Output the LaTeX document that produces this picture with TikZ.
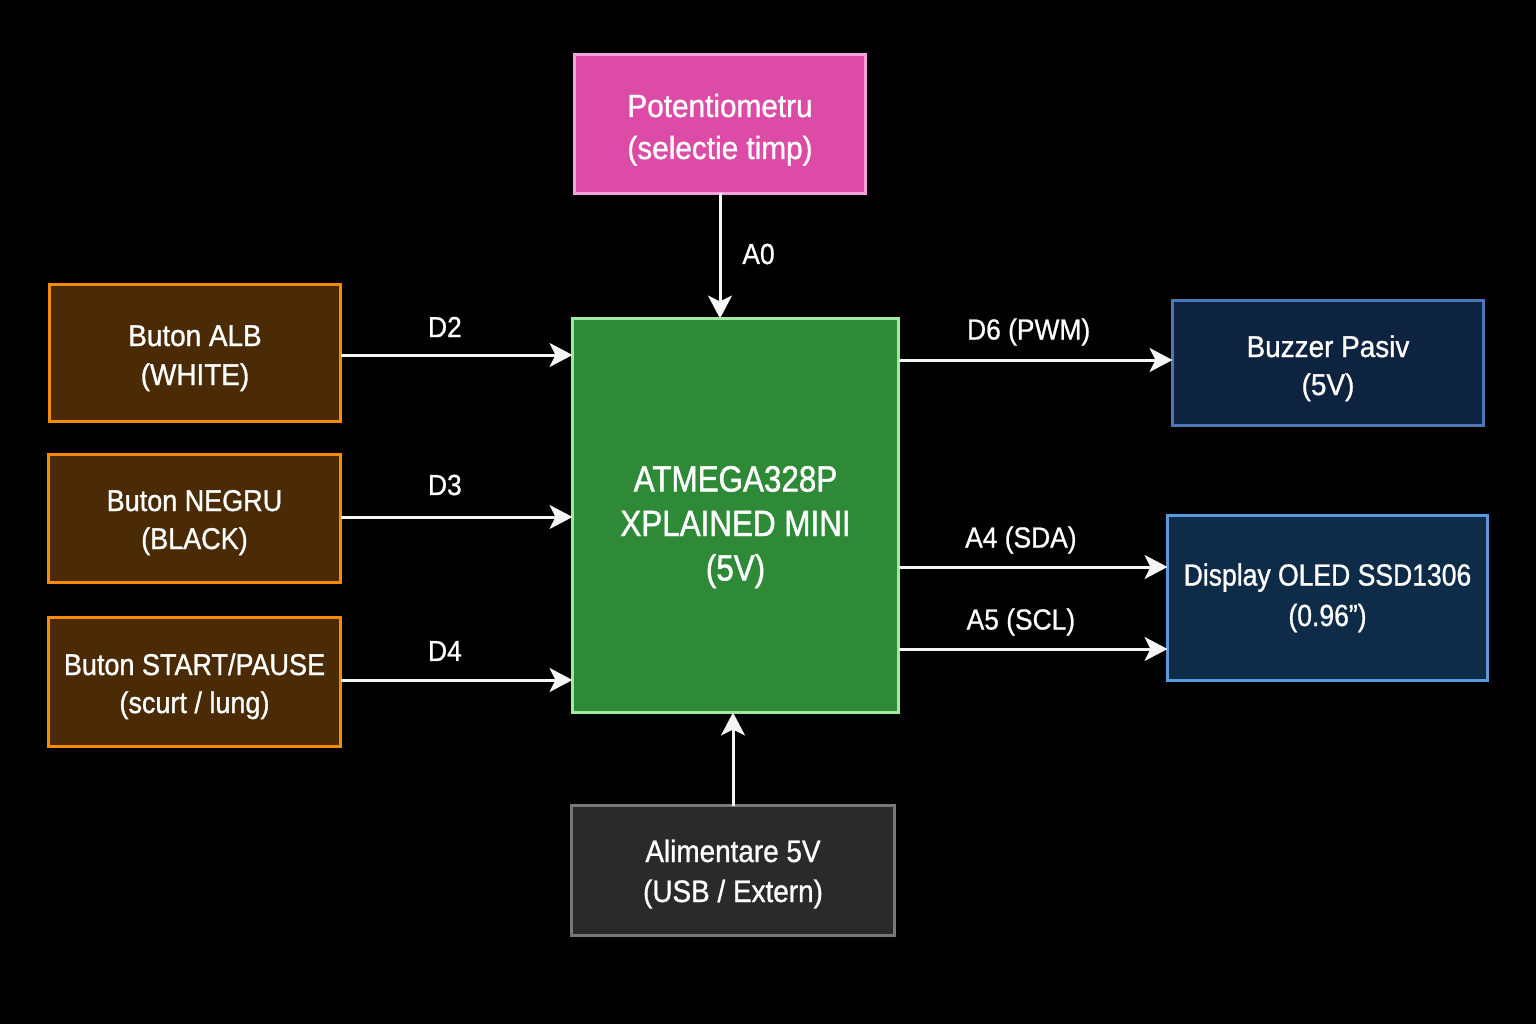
\documentclass[tikz,border=0pt]{standalone}
\usepackage{fontspec}
\setmainfont{Liberation Sans}
\newfontfamily\fa[FakeStretch=0.93,FakeBold=1]{Liberation Sans}
\newfontfamily\fb[FakeStretch=0.90,FakeBold=1]{Liberation Sans}
\newfontfamily\fc[FakeStretch=0.87,FakeBold=1]{Liberation Sans}
\newfontfamily\fd[FakeStretch=0.86,FakeBold=1.3]{Liberation Sans}
\newfontfamily\fl[FakeStretch=0.91,FakeBold=0.8]{Liberation Sans}
\usetikzlibrary{arrows.meta,calc}
\definecolor{bgc}{HTML}{000000}
\tikzset{
  x=1pt,y=-1pt,
  box/.style={draw,line width=3pt,rectangle,outer sep=0pt,inner sep=0pt,text=white,align=center,text depth=0pt},
  pot/.style={box,draw=potb,fill=potf,text height=70pt,font=\fa\fontsize{32}{42}\selectfont},
  mcu/.style={box,draw=mcub,fill=mcuf,text height=130pt,font=\fd\fontsize{36.5}{44.5}\selectfont},
  btn/.style={box,draw=btnb,fill=btnf,font=\fontsize{30}{38.5}\selectfont},
  buz/.style={box,draw=buzb,fill=buzf,text height=64pt,font=\fa\fontsize{30}{38}\selectfont},
  dsp/.style={box,draw=dspb,fill=dspf,text height=56pt,font=\fc\fontsize{30.5}{40.5}\selectfont},
  pwr/.style={box,draw=pwrb,fill=pwrf,text height=63pt,font=\fb\fontsize{31}{40}\selectfont},
  wire/.style={draw=wirec,line width=3pt,-{Stealth[length=23pt,width=24pt,inset=6pt]}},
  sig/.style={text=white,inner sep=0pt,font=\fl\fontsize{29}{32}\selectfont},
}
\definecolor{potb}{HTML}{F5A3DE}\definecolor{potf}{HTML}{DC4CA6}
\definecolor{mcub}{HTML}{A2E8A0}\definecolor{mcuf}{HTML}{2E8A36}
\definecolor{btnb}{HTML}{F28C0A}\definecolor{btnf}{HTML}{4A2B06}
\definecolor{buzb}{HTML}{4A78B6}\definecolor{buzf}{HTML}{0E2340}
\definecolor{dspb}{HTML}{5A9ADC}\definecolor{dspf}{HTML}{0E2B47}
\definecolor{pwrb}{HTML}{787878}\definecolor{pwrf}{HTML}{2A2A2A}
\definecolor{wirec}{HTML}{F5F5F5}
\begin{document}
\begin{tikzpicture}
\useasboundingbox (0,0) rectangle (1536,1024);
\fill[bgc] (0,0) rectangle (1536,1024);
\node[pot,minimum width=291pt,minimum height=139pt] (pot) at (720,124) {Potentiometru\\(selectie timp)};
\node[mcu,minimum width=326pt,minimum height=394pt] (mcu) at (735.5,515.5) {ATMEGA328P\\XPLAINED MINI\\(5V)};
\node[btn,font=\fa\fontsize{30}{39}\selectfont,text height=64pt,minimum width=291pt,minimum height=137pt] (alb) at (195,353) {Buton ALB\\(WHITE)};
\node[btn,font=\fb\fontsize{30}{38}\selectfont,text height=61pt,minimum width=292pt,minimum height=128pt] (neg) at (194.5,518.5) {Buton NEGRU\\(BLACK)};
\node[btn,font=\fb\fontsize{30}{38}\selectfont,text height=62pt,minimum width=292pt,minimum height=129pt] (sta) at (194.5,682) {Buton START/PAUSE\\(scurt / lung)};
\node[buz,minimum width=311pt,minimum height=125pt] (buz) at (1328,363) {Buzzer Pasiv\\(5V)};
\node[dsp,minimum width=320pt,minimum height=165pt] (dsp) at (1327.5,598) {Display OLED SSD1306\\(0.96”)};
\node[pwr,minimum width=323pt,minimum height=130pt] (pwr) at (733,870.5) {Alimentare 5V\\(USB / Extern)};
\draw[wire] (pot.south) -- (pot.south |- mcu.north) node[sig,pos=0.5,xshift=38.5pt,yshift=2pt] (la0) {A0};
\draw[wire] ([yshift=-2pt]alb.east) -- ([yshift=160.5pt]mcu.west) node[sig,pos=0.45,yshift=28pt] (ld2) {D2};
\draw[wire] ([yshift=1.5pt]neg.east) -- ([yshift=-1.5pt]mcu.west) node[sig,pos=0.45,yshift=32pt] (ld3) {D3};
\draw[wire] ([yshift=2pt]sta.east) -- ([yshift=-164.5pt]mcu.west) node[sig,pos=0.45,yshift=29pt] (ld4) {D4};
\draw[wire] ([yshift=155.5pt]mcu.east) -- ([yshift=3pt]buz.west) node[sig,pos=0.475,yshift=28pt] (ld6) {D6 (PWM)};
\draw[wire] ([yshift=-51.5pt]mcu.east) -- ([yshift=31pt]dsp.west) node[sig,pos=0.455,yshift=27pt] (la4) {A4 (SDA)};
\draw[wire] ([yshift=-133.5pt]mcu.east) -- ([yshift=-51pt]dsp.west) node[sig,pos=0.455,yshift=27pt] (la5) {A5 (SCL)};
\draw[wire] (pwr.north) -- (pwr.north |- mcu.south);
\end{tikzpicture}
\end{document}
